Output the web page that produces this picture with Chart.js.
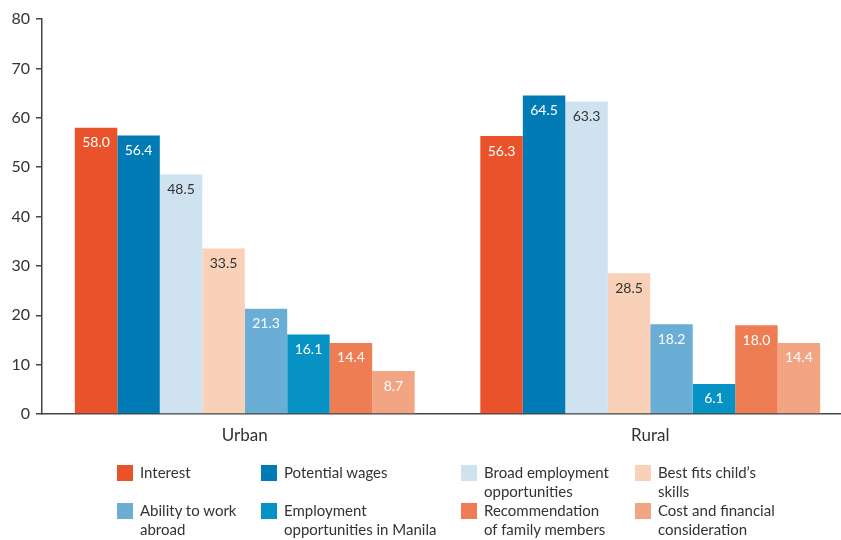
<!DOCTYPE html>
<html>
<head>
<meta charset="utf-8">
<script src="https://cdn.jsdelivr.net/npm/chart.js@4/dist/chart.umd.min.js"></script>
<style>
  html, body { margin: 0; padding: 0; background: #fff; overflow: hidden; width: 841px; height: 540px; }
  #wrap { position: absolute; left: 0; top: 0; width: 860px; height: 450px; }
  #legend { position: absolute; left: 0; top: 0; width: 841px; height: 540px; pointer-events: none;
            font-family: Lato, "Open Sans", sans-serif; font-size: 15px; line-height: 19px; color: #333; }
  .sw { position: absolute; width: 16px; height: 16px; }
  .tx { position: absolute; white-space: nowrap; }
</style>
</head>
<body>
<div id="wrap"><canvas id="c" width="860" height="450"></canvas></div>
<div id="legend"></div>
<script>
// ---- data ----
const categories = ["Urban", "Rural"];
const seriesLines = [
  ["Interest"],
  ["Potential wages"],
  ["Broad employment", "opportunities"],
  ["Best fits child\u2019s", "skills"],
  ["Ability to work", "abroad"],
  ["Employment", "opportunities in Manila"],
  ["Recommendation", "of family members"],
  ["Cost and financial", "consideration"]
];
const interest        = [58.0, 56.3];
const potentialWages  = [56.4, 64.5];
const broadEmployment = [48.5, 63.3];
const bestFits        = [33.5, 28.5];
const abilityAbroad   = [21.3, 18.2];
const employmentManila= [16.1, 6.1];
const recommendation  = [14.4, 18.0];
const costFinancial   = [8.7, 14.4];
const yTicks = [0, 10, 20, 30, 40, 50, 60, 70, 80];

const seriesValues = [interest, potentialWages, broadEmployment, bestFits,
                      abilityAbroad, employmentManila, recommendation, costFinancial];
const colors = ["#E9522B", "#007BB5", "#CFE2F0", "#F9D0B8", "#6AAED6", "#0792C6", "#EF7D53", "#F3A583"];
const labelColors = ["#fff", "#fff", "#333", "#333", "#fff", "#fff", "#fff", "#fff"];

const datasets = seriesValues.map((vals, i) => ({
  label: seriesLines[i].join(" "),
  data: vals,
  backgroundColor: colors[i],
  borderWidth: 0,
  categoryPercentage: 0.838,
  barPercentage: 1.0,
  valueColor: labelColors[i]
}));

const valueLabels = {
  id: "valueLabels",
  afterDatasetsDraw(chart) {
    const ctx = chart.ctx;
    ctx.save();
    ctx.font = "14px Lato, 'Open Sans', sans-serif";
    ctx.textAlign = "center";
    ctx.textBaseline = "middle";
    chart.data.datasets.forEach((ds, i) => {
      const meta = chart.getDatasetMeta(i);
      meta.data.forEach((bar, j) => {
        ctx.fillStyle = ds.valueColor;
        ctx.fillText(ds.data[j].toFixed(1), bar.x, bar.y + 15);
      });
    });
    ctx.restore();
  }
};

new Chart(document.getElementById("c"), {
  type: "bar",
  data: { labels: categories, datasets },
  plugins: [valueLabels],
  options: {
    responsive: false,
    devicePixelRatio: 1,
    animation: false,
    layout: { padding: { top: 19, right: 7, bottom: 0, left: 0 } },
    plugins: { legend: { display: false }, tooltip: { enabled: false } },
    scales: {
      x: {
        grid: { display: false, drawTicks: false },
        border: { display: true, color: "#444", width: 1.5 },
        ticks: { color: "#333", font: { family: "Lato, 'Open Sans', sans-serif", size: 17 }, padding: 11 },
        afterFit(s) { s.height = 36; }
      },
      y: {
        min: 0, max: 80,
        afterBuildTicks(s) { s.ticks = yTicks.map(v => ({ value: v })); },
        grid: { drawOnChartArea: false, drawTicks: true, tickLength: 6, color: "#444", lineWidth: 1.5 },
        border: { display: true, color: "#444", width: 1.5 },
        ticks: { color: "#333", font: { family: "Lato, 'Open Sans', sans-serif", size: 16 }, padding: 6 },
        afterFit(s) { s.width = 42; }
      }
    }
  }
});

// ---- HTML legend ----
const legend = document.getElementById("legend");
const colX = [117, 261, 461, 635];
const rowY = [465, 503];
seriesLines.forEach((lines, i) => {
  const col = i % 4, row = Math.floor(i / 4);
  const sw = document.createElement("div");
  sw.className = "sw";
  sw.style.left = colX[col] + "px";
  sw.style.top = rowY[row] + "px";
  sw.style.background = colors[i];
  legend.appendChild(sw);
  const tx = document.createElement("div");
  tx.className = "tx";
  tx.style.left = (colX[col] + 23) + "px";
  tx.style.top = (rowY[row] - 2) + "px";
  tx.innerHTML = lines.join("<br>");
  legend.appendChild(tx);
});
</script>
</body>
</html>
